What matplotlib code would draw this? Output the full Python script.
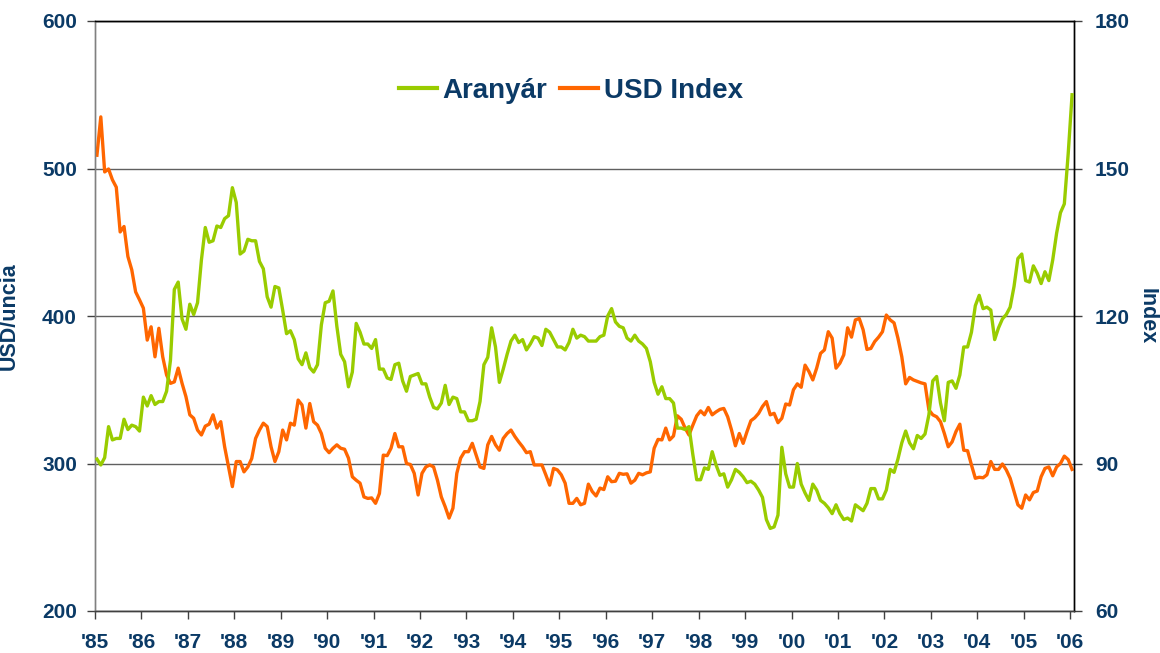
import matplotlib
matplotlib.use("Agg")
import matplotlib.pyplot as plt
import numpy as np

# ---- data (monthly, Jan 1985 .. Jan 2006) ----
years = ["'85", "'86", "'87", "'88", "'89", "'90", "'91", "'92", "'93", "'94", "'95",
         "'96", "'97", "'98", "'99", "'00", "'01", "'02", "'03", "'04", "'05", "'06"]

gold_1985 = [303, 299, 304, 325, 316, 317, 317, 330, 323, 326, 325, 322]
gold_1986 = [345, 339, 346, 340, 342, 342, 349, 370, 418, 423, 398, 391]
gold_1987 = [408, 401, 409, 438, 460, 450, 451, 461, 460, 466, 468, 487]
gold_1988 = [477, 442, 444, 452, 451, 451, 437, 432, 413, 406, 420, 419]
gold_1989 = [404, 388, 390, 384, 371, 367, 375, 365, 362, 367, 394, 409]
gold_1990 = [410, 417, 393, 374, 369, 352, 362, 395, 389, 381, 381, 378]
gold_1991 = [384, 364, 364, 358, 357, 367, 368, 356, 349, 359, 360, 361]
gold_1992 = [354, 354, 345, 338, 337, 341, 353, 340, 345, 344, 335, 335]
gold_1993 = [329, 329, 330, 342, 367, 372, 392, 379, 355, 364, 374, 383]
gold_1994 = [387, 382, 384, 377, 381, 386, 385, 380, 391, 389, 384, 379]
gold_1995 = [379, 377, 382, 391, 385, 387, 386, 383, 383, 383, 386, 387]
gold_1996 = [400, 405, 396, 393, 392, 385, 383, 387, 383, 381, 378, 369]
gold_1997 = [355, 347, 352, 344, 344, 341, 324, 324, 323, 325, 306, 289]
gold_1998 = [289, 297, 296, 308, 299, 292, 293, 284, 289, 296, 294, 291]
gold_1999 = [287, 288, 286, 282, 277, 262, 256, 257, 265, 311, 293, 284]
gold_2000 = [284, 300, 286, 280, 275, 286, 282, 275, 273, 270, 266, 272]
gold_2001 = [266, 262, 263, 261, 272, 270, 268, 273, 283, 283, 276, 276]
gold_2002 = [282, 296, 294, 303, 314, 322, 314, 310, 319, 317, 320, 333]
gold_2003 = [356, 359, 341, 329, 355, 356, 351, 360, 379, 379, 389, 407]
gold_2004 = [414, 405, 406, 404, 384, 392, 398, 401, 406, 420, 439, 442]
gold_2005 = [424, 423, 434, 429, 422, 430, 424, 438, 456, 470, 476, 510]
gold_2006 = [550]

usd_1985 = [152.7, 160.5, 149.3, 149.9, 147.7, 146.2, 137.1, 138.2, 132.1, 129.4, 124.9, 123.3]
usd_1986 = [121.6, 115.1, 117.8, 111.7, 117.5, 111.7, 108.0, 106.3, 106.6, 109.4, 106.3, 103.6]
usd_1987 = [99.9, 99.2, 96.8, 95.8, 97.6, 98.0, 99.9, 97.2, 98.5, 93.4, 89.3, 85.3]
usd_1988 = [90.4, 90.4, 88.3, 89.3, 91.0, 95.1, 96.8, 98.2, 97.5, 93.4, 90.4, 92.4]
usd_1989 = [96.8, 94.8, 98.2, 97.8, 102.9, 101.9, 97.2, 102.2, 98.5, 97.8, 96.1, 93.1]
usd_1990 = [92.2, 93.1, 93.8, 93.1, 92.9, 91.1, 87.3, 86.6, 86.0, 83.2, 82.9, 83.0]
usd_1991 = [81.9, 83.9, 91.7, 91.6, 93.1, 96.1, 93.4, 93.4, 90.0, 89.8, 88.0, 83.6]
usd_1992 = [88.0, 89.3, 89.7, 89.3, 86.6, 83.2, 81.2, 78.9, 80.9, 88.0, 91.1, 92.4]
usd_1993 = [92.4, 94.1, 91.7, 89.3, 89.0, 93.8, 95.5, 93.8, 92.7, 95.1, 96.1, 96.8]
usd_1994 = [95.5, 94.4, 93.4, 92.2, 92.4, 89.7, 89.7, 89.7, 87.7, 85.6, 89.0, 88.7]
usd_1995 = [87.7, 86.0, 81.9, 81.9, 82.9, 81.6, 81.9, 85.8, 84.3, 83.4, 85.0, 84.7]
usd_1996 = [87.3, 86.3, 86.4, 88.0, 87.8, 87.9, 86.0, 86.6, 88.0, 87.7, 88.1, 88.3]
usd_1997 = [93.1, 94.9, 94.8, 97.2, 94.8, 95.6, 99.7, 99.0, 97.2, 95.8, 97.8, 99.7]
usd_1998 = [100.7, 99.9, 101.4, 99.9, 100.5, 101.0, 101.2, 99.5, 96.8, 93.6, 96.1, 94.1]
usd_1999 = [96.5, 98.7, 99.3, 100.2, 101.6, 102.6, 99.9, 100.2, 98.3, 99.2, 102.1, 101.9]
usd_2000 = [105.0, 106.2, 105.5, 110.0, 108.7, 107.0, 109.4, 112.4, 113.1, 116.8, 115.5, 109.4]
usd_2001 = [110.4, 112.1, 117.6, 115.7, 119.2, 119.5, 117.2, 113.2, 113.4, 114.8, 115.7, 116.8]
usd_2002 = [120.2, 119.2, 118.6, 115.5, 111.7, 106.2, 107.5, 107.0, 106.7, 106.4, 106.2, 100.9]
usd_2003 = [99.9, 99.5, 98.5, 96.1, 93.4, 94.4, 96.5, 98.0, 92.7, 92.6, 89.7, 87.0]
usd_2004 = [87.2, 87.1, 87.7, 90.4, 88.8, 88.8, 89.9, 88.7, 87.0, 84.3, 81.6, 80.9]
usd_2005 = [83.6, 82.6, 84.1, 84.4, 87.3, 89.0, 89.3, 87.5, 89.3, 90.0, 91.5, 90.8]
usd_2006 = [88.8]

gold = (gold_1985 + gold_1986 + gold_1987 + gold_1988 + gold_1989 + gold_1990 + gold_1991
        + gold_1992 + gold_1993 + gold_1994 + gold_1995 + gold_1996 + gold_1997 + gold_1998
        + gold_1999 + gold_2000 + gold_2001 + gold_2002 + gold_2003 + gold_2004 + gold_2005
        + gold_2006)
usd = (usd_1985 + usd_1986 + usd_1987 + usd_1988 + usd_1989 + usd_1990 + usd_1991
       + usd_1992 + usd_1993 + usd_1994 + usd_1995 + usd_1996 + usd_1997 + usd_1998
       + usd_1999 + usd_2000 + usd_2001 + usd_2002 + usd_2003 + usd_2004 + usd_2005
       + usd_2006)

# ---- style ----
NAVY = "#0B3A66"
GREEN = "#99CC00"
ORANGE = "#FF6600"
plt.rcParams["font.family"] = ["Liberation Sans", "DejaVu Sans"]
plt.rcParams["font.weight"] = "bold"

fig = plt.figure(figsize=(11.6, 6.53), dpi=100)
ax2 = fig.add_axes([95 / 1160, 1 - 611 / 653, 979 / 1160, 590 / 653])
ax = ax2.twinx()
ax.set_zorder(ax2.get_zorder() + 1)
ax.patch.set_visible(False)

n = len(gold)
xpos = np.arange(n) + 0.5

l2, = ax2.plot(xpos[:len(usd)], usd, color=ORANGE, lw=2.4, solid_joinstyle="round",
               label="USD Index", zorder=3)
l1, = ax.plot(xpos, gold, color=GREEN, lw=2.4, solid_joinstyle="round",
              label="Aranyár", zorder=3)

ax2.set_xlim(0, n)
ax2.set_ylim(60, 180)
ax.set_ylim(200, 600)

# gold scale on the left, USD scale on the right
ax.yaxis.set_label_position("left")
ax.yaxis.tick_left()
ax2.yaxis.set_label_position("right")
ax2.yaxis.tick_right()

ax.set_yticks([200, 300, 400, 500, 600])
ax2.set_yticks([60, 90, 120, 150, 180])
ax2.set_xticks(np.arange(0, n, 12))
ax2.set_xticklabels(years)

ax2.yaxis.grid(True, color="#606060", lw=1.0)
ax2.set_axisbelow(True)

for a in (ax, ax2):
    a.tick_params(axis="both", which="major", direction="out", length=6, width=1,
                  color="#404040", labelsize=15, labelcolor=NAVY)
ax.tick_params(axis="y", pad=7)
ax2.tick_params(axis="y", pad=9)
ax2.tick_params(axis="x", pad=10)
for lab in ax.get_yticklabels() + ax2.get_yticklabels() + ax2.get_xticklabels():
    lab.set_fontweight("bold")

for a in (ax, ax2):
    a.spines["top"].set_color("black")
    a.spines["left"].set_color("#808080")
    a.spines["right"].set_color("black")
    a.spines["bottom"].set_color("#404040")
    for s in a.spines.values():
        s.set_linewidth(1.0)

ax.set_ylabel("USD/uncia", color=NAVY, fontsize=15.5, fontweight="bold")
ax.yaxis.set_label_coords(-0.077, 0.5)
ax2.set_ylabel("Index", color=NAVY, fontsize=15.5, fontweight="bold", rotation=270,
               va="center")
ax2.yaxis.set_label_coords(1.075, 0.5)

leg = ax.legend(handles=[l1, l2], loc="center", bbox_to_anchor=(0.486, 0.881), ncol=2,
                frameon=False, fontsize=20, handlelength=1.37, handletextpad=0.22,
                columnspacing=0.45)
for t in leg.get_texts():
    t.set_color(NAVY)
    t.set_fontweight("bold")
for h in leg.get_lines():
    h.set_linewidth(3)

fig.savefig("out.png", dpi=100)
